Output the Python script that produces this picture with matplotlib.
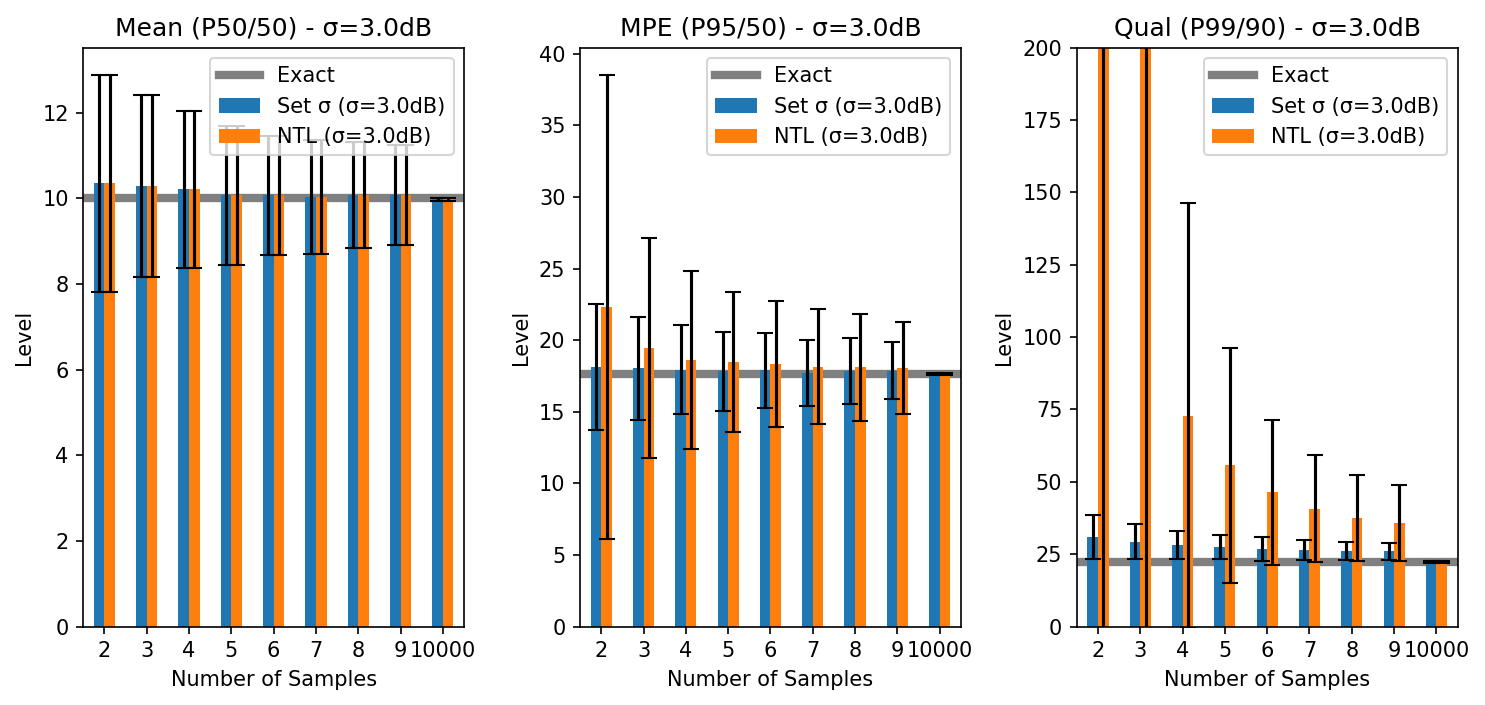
import numpy as np
import matplotlib
matplotlib.use("Agg")
import matplotlib.pyplot as plt

samples = ["2", "3", "4", "5", "6", "7", "8", "9", "10000"]

# Mean (P50/50)
mean_exact = 10.0
mean_set = [10.35, 10.29, 10.21, 10.07, 10.07, 10.04, 10.08, 10.08, 9.98]
mean_set_err = [2.53, 2.12, 1.83, 1.62, 1.39, 1.33, 1.24, 1.17, 0.04]
mean_ntl = [10.35, 10.29, 10.21, 10.07, 10.07, 10.04, 10.08, 10.08, 9.98]
mean_ntl_err = [2.53, 2.12, 1.83, 1.62, 1.39, 1.33, 1.24, 1.17, 0.04]

# MPE (P95/50)
mpe_exact = 17.63
mpe_set = [18.1, 18.03, 17.93, 17.82, 17.9, 17.71, 17.83, 17.88, 17.65]
mpe_set_err = [4.4, 3.62, 3.1, 2.78, 2.62, 2.32, 2.3, 2.01, 0.05]
mpe_ntl = [22.3, 19.45, 18.62, 18.48, 18.31, 18.16, 18.1, 18.06, 17.65]
mpe_ntl_err = [16.2, 7.7, 6.22, 4.9, 4.4, 4.03, 3.73, 3.24, 0.05]

# Qual (P99/90)
qual_exact = 22.4
qual_set = [30.9, 29.4, 28.2, 27.45, 26.8, 26.5, 26.2, 26.0, 22.3]
qual_set_err = [7.5, 6.0, 4.8, 4.1, 4.1, 3.4, 3.1, 2.9, 0.4]
qual_ntl = [480.0, 260.0, 72.9, 55.8, 46.4, 40.8, 37.5, 35.75, 22.3]
qual_ntl_err = [1200.0, 450.0, 73.3, 40.6, 25.0, 18.4, 14.85, 13.05, 0.4]

panels = [
    ("Mean (P50/50) - σ=3.0dB", mean_exact, mean_set, mean_set_err, mean_ntl, mean_ntl_err, None),
    ("MPE (P95/50) - σ=3.0dB", mpe_exact, mpe_set, mpe_set_err, mpe_ntl, mpe_ntl_err, None),
    ("Qual (P99/90) - σ=3.0dB", qual_exact, qual_set, qual_set_err, qual_ntl, qual_ntl_err, (0, 200)),
]

fig, axes = plt.subplots(1, 3, figsize=(9.9, 4.7), dpi=150)
fig.subplots_adjust(left=0.0561, right=0.9815, top=0.9326, bottom=0.1111, wspace=0.305)

x = np.arange(len(samples))
w = 0.25
for ax, (title, exact, s, se, n, ne, ylim) in zip(axes, panels):
    ax.axhline(exact, color="gray", lw=4, label="Exact", zorder=0)
    ax.bar(x - w / 2, s, w, yerr=se, capsize=4, color="#1f77b4",
           label="Set σ (σ=3.0dB)", error_kw=dict(ecolor="black"))
    ax.bar(x + w / 2, n, w, yerr=ne, capsize=4, color="#ff7f0e",
           label="NTL (σ=3.0dB)", error_kw=dict(ecolor="black"))
    ax.set_xticks(x)
    ax.set_xticklabels(samples, rotation=0)
    ax.set_xlim(-0.5, 8.5)
    if ylim is not None:
        ax.set_ylim(*ylim)
    else:
        top = max(max(np.array(s) + np.array(se)), max(np.array(n) + np.array(ne)))
        ax.set_ylim(0, top * 1.05)
    ax.set_title(title)
    ax.set_xlabel("Number of Samples")
    ax.set_ylabel("Level")
    ax.legend(loc="upper right")

fig.savefig("out.png", dpi=150)
